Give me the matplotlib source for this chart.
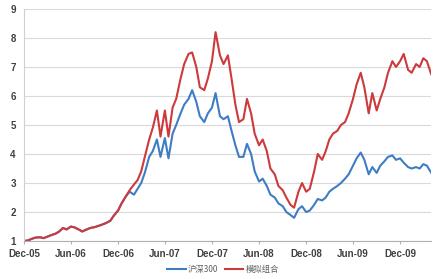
import matplotlib
matplotlib.use('Agg')
import matplotlib.pyplot as plt
import pandas as pd

plt.rcParams['font.family'] = ['Noto Sans CJK SC', 'DejaVu Sans']

# 半月一个点, 2005-12-01 起
dates = pd.date_range('2005-12-01', periods=105, freq='SMS')

csi300 = [1.00, 1.02, 1.08, 1.12, 1.13, 1.10, 1.15, 1.20, 1.25, 1.32,
          1.45, 1.40, 1.50, 1.47, 1.40, 1.33, 1.40, 1.45, 1.48, 1.52,
          1.57, 1.62, 1.70, 1.88, 2.05, 2.30, 2.55, 2.70, 2.60, 2.80,
          3.00, 3.35, 3.90, 4.10, 4.50, 3.90, 4.55, 3.85, 4.70, 5.00,
          5.40, 5.70, 5.90, 6.20, 5.80, 5.30, 5.10, 5.40, 5.60, 6.10,
          5.30, 5.20, 5.30, 4.80, 4.30, 3.90, 3.90, 4.35, 4.00, 3.40,
          3.05, 3.15, 2.90, 2.60, 2.50, 2.30, 2.20, 2.00, 1.90, 1.80,
          2.10, 2.20, 2.00, 2.05, 2.25, 2.45, 2.40, 2.50, 2.70, 2.80,
          2.90, 3.00, 3.15, 3.30, 3.60, 3.85, 4.05, 3.80, 3.30, 3.55,
          3.35, 3.60, 3.75, 3.90, 3.95, 3.80, 3.85, 3.70, 3.55, 3.50,
          3.55, 3.50, 3.65, 3.60, 3.35]

portfolio = [1.00, 1.02, 1.08, 1.12, 1.13, 1.10, 1.15, 1.20, 1.25, 1.32,
             1.45, 1.40, 1.50, 1.47, 1.40, 1.33, 1.40, 1.45, 1.48, 1.52,
             1.57, 1.62, 1.70, 1.88, 2.05, 2.30, 2.55, 2.75, 2.95, 3.10,
             3.40, 3.90, 4.50, 4.90, 5.50, 4.60, 5.50, 4.60, 5.60, 5.90,
             6.60, 7.10, 7.45, 7.50, 7.00, 6.30, 6.20, 6.60, 7.20, 8.20,
             7.40, 7.10, 7.40, 6.60, 5.70, 5.10, 5.20, 5.90, 5.40, 4.70,
             4.30, 4.50, 4.10, 3.50, 3.30, 2.90, 2.75, 2.50, 2.25, 2.15,
             2.70, 3.00, 2.70, 2.80, 3.40, 4.00, 3.80, 4.10, 4.50, 4.70,
             4.80, 5.00, 5.10, 5.40, 5.90, 6.40, 6.80, 6.30, 5.40, 6.10,
             5.50, 5.90, 6.30, 6.80, 7.20, 7.00, 7.20, 7.45, 6.90, 6.80,
             7.10, 7.00, 7.30, 7.20, 6.75]

series_names = ['沪深300', '模拟组合']
tick_dates = pd.date_range('2005-12-01', '2009-12-01', freq='6MS')
tick_labels = [d.strftime('%b-%y') for d in tick_dates]

fig = plt.figure(figsize=(4.38, 2.79), dpi=100)
ax = fig.add_axes([0.055, 0.136, 0.929, 0.832])

ax.plot(dates, csi300, color='#3F7CC4', lw=1.5, label=series_names[0])
ax.plot(dates, portfolio, color='#CC3A3C', lw=1.5, label=series_names[1])

ax.set_ylim(1, 9)
ax.set_yticks(range(1, 10))
ax.set_xlim(pd.Timestamp('2005-12-01'), pd.Timestamp('2010-03-31'))
ax.set_xticks(tick_dates)
ax.set_xticklabels(tick_labels)

ax.grid(axis='y', color='#dadada', lw=0.8)
ax.set_axisbelow(True)
for s in ['top', 'right']:
    ax.spines[s].set_visible(False)
ax.spines['left'].set_color('#d0d0d0')
ax.spines['bottom'].set_color('#b0b0b0')
ax.tick_params(axis='y', length=0, pad=6)
ax.tick_params(axis='x', length=2, color='#b0b0b0', pad=4)
for lab in ax.get_xticklabels() + ax.get_yticklabels():
    lab.set_fontfamily(['Liberation Sans', 'DejaVu Sans'])
    lab.set_fontweight('bold')
    lab.set_fontsize(7)
    lab.set_color('#404040')

leg = fig.legend(loc='lower center', bbox_to_anchor=(0.51, -0.01), ncol=2,
                 frameon=False, fontsize=6, handlelength=2.2,
                 columnspacing=0.8, handletextpad=0.3)
for t in leg.get_texts():
    t.set_color('#606060')

fig.savefig('out.png', dpi=100)
